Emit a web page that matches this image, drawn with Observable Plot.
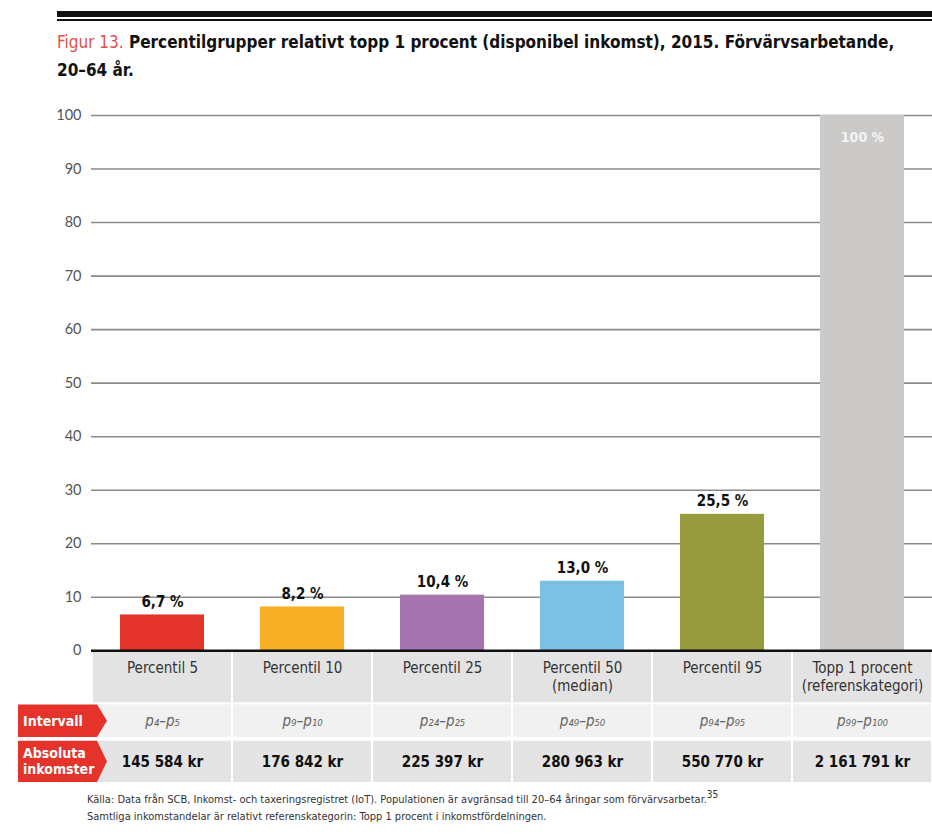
<!DOCTYPE html>
<html><head><meta charset="utf-8">
<script src="https://cdn.jsdelivr.net/npm/d3@7"></script>
<script src="https://cdn.jsdelivr.net/npm/@observablehq/plot@0.6"></script>
<style>
html,body{margin:0;padding:0;background:#fff;}
body{width:932px;height:834px;position:relative;overflow:hidden;font-family:"DejaVu Sans Condensed","DejaVu Sans",sans-serif;font-stretch:condensed;}
#rule1{position:absolute;left:57px;top:11px;width:875px;height:6px;background:#111;}
#rule2{position:absolute;left:57px;top:19px;width:875px;height:2px;background:#111;}
#title{position:absolute;left:57px;top:28px;width:875px;font-size:17px;line-height:28px;font-weight:bold;color:#111;white-space:nowrap;}
#title .fig{color:#e0504a;font-weight:normal;}
#chart{position:absolute;left:0;top:100px;}
#chart svg text{font-stretch:condensed;}
#foot{position:absolute;left:87px;top:791px;font-size:11px;line-height:17px;color:#333;}
#foot sup{font-size:10px;line-height:0;}
</style></head><body>
<div id="rule1"></div><div id="rule2"></div>
<div id="title"><span class="fig">Figur 13.</span> Percentilgrupper relativt topp 1 procent (disponibel inkomst), 2015. Förvärvsarbetande,<br>20–64 år.</div>
<div id="chart"></div>
<div id="foot">Källa: Data från SCB, Inkomst- och taxeringsregistret (IoT). Populationen är avgränsad till 20–64 åringar som förvärvsarbetar.<sup>35</sup><br>Samtliga inkomstandelar är relativt referenskategorin: Topp 1 procent i inkomstfördelningen.</div>
<script>
const categories = ["Percentil 5","Percentil 10","Percentil 25","Percentil 50\n(median)","Percentil 95","Topp 1 procent\n(referenskategori)"];
const shares = [6.7, 8.2, 10.4, 13.0, 25.5, 100];
const shareLabels = ["6,7 %","8,2 %","10,4 %","13,0 %","25,5 %","100 %"];
const colors = ["#e3332b","#f6ae24","#a574b0","#7cc0e4","#979b3d","#ccc9c9"];
const intervals = ["p₄–p₅","p₉–p₁₀","p₂₄–p₂₅","p₄₉–p₅₀","p₉₄–p₉₅","p₉₉–p₁₀₀"];
const incomes = ["145 584 kr","176 842 kr","225 397 kr","280 963 kr","550 770 kr","2 161 791 kr"];
const yTicks = [0,10,20,30,40,50,60,70,80,90,100];
const rowLabels = ["Intervall","Absoluta\ninkomster"];

const data = categories.map((c,i)=>({cat:c, v:shares[i], label:shareLabels[i], color:colors[i], iv:intervals[i], inc:incomes[i]}));

// table rows placed below zero on the y scale
const rows = {head:[0,-9.7], interval:[-10.1,-16.2], income:[-16.9,-24.6]};
const W = 932, ML = 91, MR = 0;
const step = (W-ML-MR)/categories.length;
const cellInset = -(0.2*step) + 1;
const font = '"DejaVu Sans Condensed","DejaVu Sans",sans-serif';

const last = data.length-1;
const plot = Plot.plot({
  width: W, height: 682,
  marginLeft: ML, marginRight: MR, marginTop: 15, marginBottom: 0,
  style:{fontFamily: font, background:"#fff"},
  x:{domain: categories, paddingInner:0.4, paddingOuter:0.2, axis:null},
  y:{domain:[-24.6,100], axis:null},
  marks:[
    Plot.ruleY(yTicks.filter(d=>d>0), {stroke:"#8a8a8a", strokeWidth:1.6}),
    Plot.text(yTicks, {y:d=>d, text:d=>String(d), frameAnchor:"left", dx:-10, textAnchor:"end", fill:"#555", fontSize:14.5, fontFamily:"Lato, 'Open Sans', sans-serif"}),
    Plot.barY(data, {x:"cat", y:"v", fill:"color"}),
    // table
    Plot.barY(data, {x:"cat", y1:rows.head[0], y2:rows.head[1], fill:"#e3e3e3", insetLeft:cellInset, insetRight:cellInset}),
    Plot.barY(data, {x:"cat", y1:rows.interval[0], y2:rows.interval[1], fill:"#f1f1f1", insetLeft:cellInset, insetRight:cellInset}),
    Plot.barY(data, {x:"cat", y1:rows.income[0], y2:rows.income[1], fill:"#e4e4e4", insetLeft:cellInset, insetRight:cellInset}),
    Plot.ruleY([0], {stroke:"#111", strokeWidth:2.5}),
    Plot.text(data.slice(0,last), {x:"cat", y:"v", text:"label", dy:-13, fontWeight:"bold", fontSize:15, fill:"#111"}),
    Plot.text(data.slice(last), {x:"cat", y:"v", text:"label", dy:22, fontWeight:"bold", fontSize:14, fill:"#f4f4f4"}),
    Plot.text(data, {x:"cat", y:rows.head[0], text:"cat", lineAnchor:"top", dy:9, fontSize:15, fill:"#333", lineHeight:1.2}),
    Plot.text(data, {x:"cat", y:(rows.interval[0]+rows.interval[1])/2, text:"iv", fontSize:15, fontStyle:"italic", fill:"#666"}),
    Plot.text(data, {x:"cat", y:(rows.income[0]+rows.income[1])/2, text:"inc", fontSize:15, fontWeight:"bold", fill:"#111"})
  ]
});
document.getElementById("chart").appendChild(plot);

// red row-label arrows in the left margin
const ys = plot.scale("y");
const svg = d3.select(plot);
const rowExt = [rows.interval, rows.income];
rowExt.forEach((r,i)=>{
  const y1 = ys.apply(r[0]), y2 = ys.apply(r[1]);
  const x0 = 18, x1 = 97, tip = 107, ym = (y1+y2)/2;
  svg.append("path").attr("d",`M${x0},${y1}L${x1},${y1}L${tip},${ym}L${x1},${y2}L${x0},${y2}Z`).attr("fill","#e3332b");
  const lines = rowLabels[i].split("\n");
  const t = svg.append("text").attr("text-anchor","start").attr("fill","#fff").attr("font-weight","bold").attr("font-size",14).attr("font-family",font);
  lines.forEach((l,j)=>{
    t.append("tspan").attr("x",x0+5).attr("y", ym + (j-(lines.length-1)/2)*16).attr("dy","0.35em").text(l);
  });
});
</script>
</body></html>
